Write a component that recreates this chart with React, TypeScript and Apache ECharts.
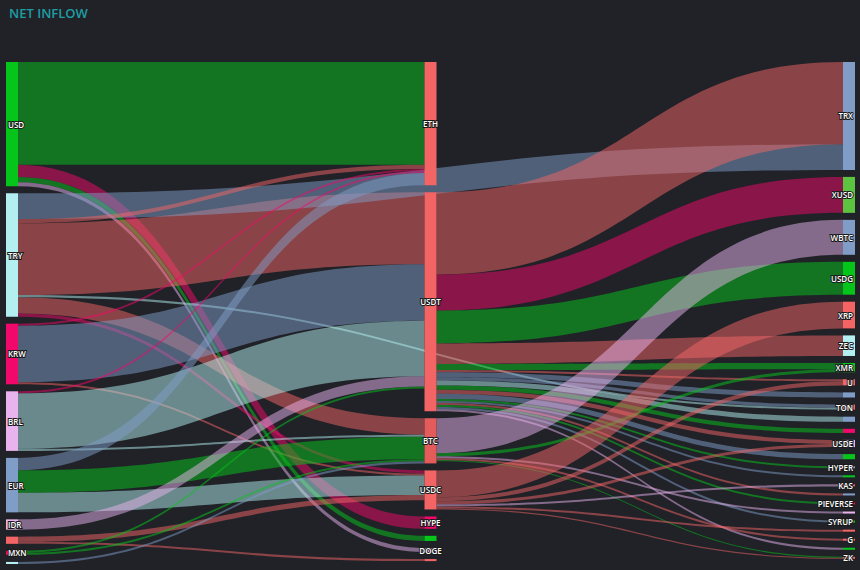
import React, { useEffect, useRef } from "react";
import * as echarts from "echarts";

// Columns of the flow diagram, top to bottom
const fiatCurrencies = ["USD", "TRY", "KRW", "BRL", "EUR", "IDR", "GBP", "MXN", "ARS"];
const hubAssets = ["ETH", "USDT", "BTC", "USDC", "HYPE", "SOL", "DOGE", "BNB"];
const destinationTokens = [
  "TRX", "XUSD", "WBTC", "USDG", "XRP", "ZEC", "XMR", "U", "ENA", "TON", "SUI", "PUMP",
  "USDE", "PENGU", "HYPER", "LINK", "KAS", "ADA", "PIEVERSE", "AVAX", "SYRUP", "WLFI",
  "G", "ASTER", "ZK",
];

// Net inflow between assets: [from, to, amount]
const fiatFlows: [string, string, number][] = [
  ["USD", "ETH", 100], ["USD", "HYPE", 12], ["USD", "SOL", 5], ["USD", "DOGE", 4],
  ["TRY", "USDT", 70], ["TRY", "TRX", 25], ["TRY", "BTC", 16], ["TRY", "ETH", 4], ["TRY", "USDC", 3], ["TRY", "TON", 2],
  ["KRW", "USDT", 55], ["KRW", "ETH", 2], ["KRW", "USDC", 2],
  ["BRL", "USDT", 54], ["BRL", "ETH", 2], ["BRL", "BTC", 2],
  ["EUR", "BTC", 22], ["EUR", "ETH", 12], ["EUR", "USDC", 19],
  ["IDR", "USDT", 10],
  ["GBP", "USDC", 5], ["GBP", "BNB", 2],
  ["MXN", "USDT", 2], ["MXN", "BTC", 2],
  ["ARS", "BTC", 2],
];

const hubFlows: [string, string, number][] = [
  ["USDT", "TRX", 80], ["USDT", "XUSD", 35], ["USDT", "USDG", 32], ["USDT", "ZEC", 20],
  ["USDT", "XMR", 6], ["USDT", "U", 2], ["USDT", "ENA", 5], ["USDT", "TON", 3],
  ["USDT", "SUI", 5], ["USDT", "PUMP", 4], ["USDT", "USDE", 4], ["USDT", "PENGU", 5],
  ["USDT", "HYPER", 2], ["USDT", "LINK", 2], ["USDT", "ADA", 2], ["USDT", "PIEVERSE", 2],
  ["USDT", "SYRUP", 2], ["USDT", "ASTER", 2],
  ["BTC", "WBTC", 34], ["BTC", "XMR", 3], ["BTC", "AVAX", 2], ["BTC", "G", 2], ["BTC", "ZK", 1],
  ["USDC", "XRP", 26], ["USDC", "U", 4], ["USDC", "USDE", 3], ["USDC", "KAS", 2],
  ["USDC", "WLFI", 2], ["USDC", "ZK", 1],
];

// ---- styling ----
const TONES: Record<string, string> = {
  green: "#05c51a",
  lime: "#5cc440",
  salmon: "#f36565",
  brick: "#e35b5b",
  crimson: "#f2086a",
  lavender: "#e9b3ee",
  steel: "#7f9dc7",
  cyan: "#b3eff0",
};

const nodeTone: Record<string, string> = {
  USD: "green", TRY: "cyan", KRW: "crimson", BRL: "lavender", EUR: "steel", IDR: "lavender",
  GBP: "salmon", MXN: "crimson", ARS: "cyan",
  ETH: "salmon", USDT: "salmon", BTC: "brick", USDC: "salmon", HYPE: "crimson", SOL: "green",
  DOGE: "lavender", BNB: "salmon",
  TRX: "steel", XUSD: "lime", WBTC: "steel", USDG: "green", XRP: "salmon", ZEC: "cyan",
  XMR: "green", U: "salmon", ENA: "steel", TON: "salmon", SUI: "steel", PUMP: "crimson",
  USDE: "lavender", PENGU: "green", HYPER: "steel", LINK: "green", KAS: "salmon", ADA: "steel",
  PIEVERSE: "crimson", AVAX: "lavender", SYRUP: "green", WLFI: "salmon", G: "salmon",
  ASTER: "green", ZK: "salmon",
};

const fiatFlowTones = [
  "green", "crimson", "green", "lavender",
  "salmon", "steel", "salmon", "salmon", "crimson", "cyan",
  "steel", "crimson", "salmon",
  "cyan", "crimson", "cyan",
  "green", "steel", "cyan",
  "lavender",
  "salmon", "salmon",
  "green", "green",
  "steel",
];

const hubFlowTones = [
  "salmon", "crimson", "green", "salmon",
  "green", "salmon", "steel", "steel",
  "cyan", "green", "salmon", "steel",
  "green", "steel", "salmon", "green",
  "steel", "lavender",
  "lavender", "green", "lavender", "salmon", "green",
  "salmon", "salmon", "salmon", "lavender",
  "salmon", "salmon",
];

// small nodes whose names stay unlabeled to avoid clutter
const quietNodes = new Set([
  "GBP", "ARS", "SOL", "BNB", "ENA", "SUI", "PUMP", "PENGU", "LINK", "ADA", "AVAX", "WLFI", "ASTER",
]);

const LABEL_POS = ["insideLeft", "inside", "insideRight"];

export default function App() {
  const ref = useRef<HTMLDivElement>(null);

  useEffect(() => {
    if (!ref.current) return;
    const chart = echarts.init(ref.current, null, { renderer: "svg" });

    const columns = [fiatCurrencies, hubAssets, destinationTokens];
    const nodes = columns.flatMap((col, depth) =>
      col.map((name) => ({
        name,
        depth,
        itemStyle: { color: TONES[nodeTone[name]] },
        label: {
          show: !quietNodes.has(name),
          position: LABEL_POS[depth],
          distance: 2,
        },
      }))
    );

    const toLinks = (flows: [string, string, number][], tones: string[]) =>
      flows.map(([source, target, value], i) => ({
        source,
        target,
        value,
        lineStyle: { color: TONES[tones[i]] },
      }));

    const links = [...toLinks(fiatFlows, fiatFlowTones), ...toLinks(hubFlows, hubFlowTones)];

    chart.setOption({
      animation: false,
      backgroundColor: "#202228",
      title: {
        text: "NET INFLOW",
        left: 9,
        top: 6,
        padding: 0,
        textStyle: {
          color: "#1e9ea4",
          fontSize: 13,
          fontWeight: 600,
          fontFamily: "Open Sans",
        },
      },
      series: [
        {
          type: "sankey",
          left: 6,
          right: 5,
          top: 62,
          bottom: 6,
          nodeWidth: 12,
          nodeGap: 7,
          nodeAlign: "left",
          layoutIterations: 0,
          draggable: false,
          emphasis: { disabled: true },
          itemStyle: { borderWidth: 0 },
          lineStyle: { opacity: 0.5, curveness: 0.5 },
          label: {
            color: "#ffffff",
            fontSize: 8,
            fontWeight: 600,
            fontFamily: "Open Sans",
            textBorderColor: "#1a1a1a",
            textBorderWidth: 2,
          },
          data: nodes,
          links,
        },
      ],
    });

    return () => chart.dispose();
  }, []);

  return (
    <div
      ref={ref}
      style={{ position: "fixed", left: 0, top: 0, width: 860, height: 570 }}
    />
  );
}
